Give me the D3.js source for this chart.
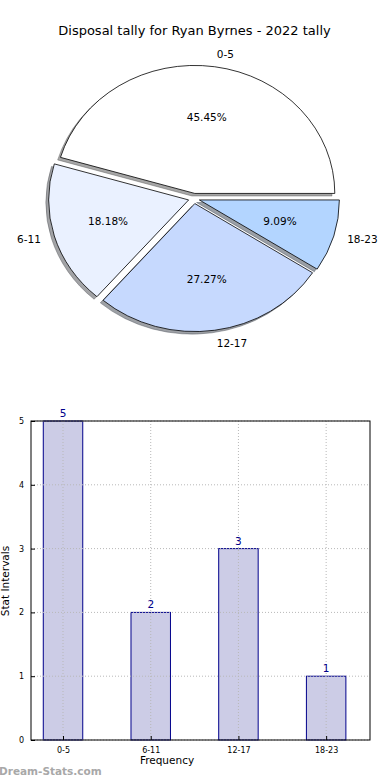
<!DOCTYPE html>
<html><head><meta charset="utf-8">
<script src="https://cdn.jsdelivr.net/npm/d3@7"></script>
<style>
html,body{margin:0;padding:0;background:#fff;}
svg{display:block;font-family:"DejaVu Sans",sans-serif;}
</style></head>
<body>
<svg id="c" width="390" height="780"></svg>
<script>
const title = "Disposal tally for Ryan Byrnes - 2022 tally";
const categories = ["0-5", "6-11", "12-17", "18-23"];
const values = [5, 2, 3, 1];
const pieColors = ["#ffffff", "#eaf1ff", "#c6d9fe", "#b3d5ff"];
const yTicks = [0, 1, 2, 3, 4, 5];
const xLabel = "Frequency";
const yLabel = "Stat Intervals";
const watermark = "Dream-Stats.com";

const svg = d3.select("#c");

// Title
svg.append("text").attr("x", 194.5).attr("y", 35).attr("text-anchor", "middle")
  .attr("font-size", 13).attr("fill", "#000").text(title);

// ---- Pie ----
const cx = 194, cy = 198.5, rx = 140, ry = 128, explode = 0.04;
const total = d3.sum(values);
const pie = d3.pie().sort(null).startAngle(Math.PI / 2).endAngle(Math.PI / 2 - 2 * Math.PI);
const arcs = pie(values);
const arc = d3.arc().innerRadius(0).outerRadius(ry);
const sx = rx / ry;
const pg = svg.append("g").attr("transform", `translate(${cx},${cy}) scale(${sx},1)`);

function off(d, k) {
  const a = (d.startAngle + d.endAngle) / 2;
  return [Math.sin(a) * k * ry, -Math.cos(a) * k * ry];
}
// shadows
arcs.forEach((d, i) => {
  const [ox, oy] = off(d, explode);
  const c = d3.rgb(pieColors[i]);
  const sc = d3.rgb(c.r * 0.3, c.g * 0.3, c.b * 0.3);
  pg.append("path").attr("d", arc(d))
    .attr("transform", `translate(${ox - 0.02 * ry},${oy + 0.02 * ry})`)
    .attr("fill", sc.toString()).attr("fill-opacity", 0.5)
    .attr("stroke", sc.toString()).attr("stroke-opacity", 0.5)
    .attr("vector-effect", "non-scaling-stroke").attr("stroke-width", 0.8);
});
arcs.forEach((d, i) => {
  const [ox, oy] = off(d, explode);
  pg.append("path").attr("d", arc(d))
    .attr("transform", `translate(${ox},${oy})`)
    .attr("fill", pieColors[i]).attr("stroke", "#000")
    .attr("stroke-width", 0.8).attr("vector-effect", "non-scaling-stroke")
    .attr("stroke-linejoin", "round");
});
// labels
arcs.forEach((d, i) => {
  const a = (d.startAngle + d.endAngle) / 2;
  const s = Math.sin(a), c = Math.cos(a);
  const bx = cx + s * explode * rx, by = cy - c * explode * ry;
  const lx = bx + 1.1 * rx * s, ly = by - 1.1 * ry * c;
  svg.append("text").attr("x", lx).attr("y", ly).attr("dy", "0.35em")
    .attr("text-anchor", s > 0 ? "start" : "end")
    .attr("font-size", 10.5).text(categories[i]);
  const px = bx + 0.6 * rx * s, py = by - 0.6 * ry * c;
  svg.append("text").attr("x", px).attr("y", py).attr("dy", "0.35em")
    .attr("text-anchor", "middle").attr("font-size", 10.5)
    .text((values[i] / total * 100).toFixed(2) + "%");
});

// ---- Bar chart ----
const L = 31, R = 370, T = 421, B = 740;
const x = d3.scaleLinear().domain([-0.365, 3.5]).range([L, R]);
const y = d3.scaleLinear().domain([0, 5]).range([B, T]);
const bw = 0.45;
const bg = svg.append("g");

bg.selectAll("rect.bar").data(values).join("rect").attr("class", "bar")
  .attr("x", (d, i) => x(i - bw / 2)).attr("width", (d, i) => x(i + bw / 2) - x(i - bw / 2))
  .attr("y", d => y(d)).attr("height", d => y(0) - y(d))
  .attr("fill", "#ccccE6").attr("stroke", "#00008b").attr("stroke-width", 1);

// grid
bg.selectAll("line.hg").data(yTicks).join("line").attr("class", "hg")
  .attr("x1", L).attr("x2", R).attr("y1", d => y(d)).attr("y2", d => y(d))
  .attr("stroke", "#b8b8b8").attr("stroke-width", 1).attr("stroke-dasharray", "1,2");
bg.selectAll("line.vg").data(categories).join("line").attr("class", "vg")
  .attr("x1", (d, i) => x(i)).attr("x2", (d, i) => x(i)).attr("y1", T).attr("y2", B)
  .attr("stroke", "#b8b8b8").attr("stroke-width", 1).attr("stroke-dasharray", "1,2");

// value labels
bg.selectAll("text.val").data(values).join("text").attr("class", "val")
  .attr("x", (d, i) => x(i)).attr("y", d => y(d) - 4).attr("text-anchor", "middle")
  .attr("font-size", 10.5).attr("fill", "#00008b").text(d => d);

// axes
const yAxis = d3.axisLeft(y).tickValues(yTicks).tickFormat(d3.format("d")).tickSize(4).tickPadding(3);
const ya = svg.append("g").attr("transform", `translate(${L},0)`).call(yAxis);
ya.select(".domain").remove();
ya.selectAll("text").attr("font-size", 8).attr("font-family", "DejaVu Sans");
ya.selectAll("line").attr("stroke", "#000").attr("x2", 4);

const xAxis = d3.axisBottom(x).tickValues(d3.range(categories.length))
  .tickFormat(i => categories[i]).tickSize(4).tickPadding(3);
const xa = svg.append("g").attr("transform", `translate(0,${B})`).call(xAxis);
xa.select(".domain").remove();
xa.selectAll("text").attr("font-size", 8).attr("font-family", "DejaVu Sans");
xa.selectAll("line").attr("stroke", "#000").attr("y2", -4);

svg.append("rect").attr("x", L).attr("y", T).attr("width", R - L).attr("height", B - T)
  .attr("fill", "none").attr("stroke", "#000").attr("stroke-width", 1);

svg.append("text").attr("x", 167).attr("y", 764).attr("text-anchor", "middle")
  .attr("font-size", 10.5).text(xLabel);
svg.append("text").attr("transform", `translate(9,581) rotate(-90)`)
  .attr("text-anchor", "middle").attr("font-size", 10.5).text(yLabel);

svg.append("text").attr("x", -1).attr("y", 775).attr("font-size", 10.5).attr("font-weight", "bold")
  .attr("fill", "#a8a8a8").text(watermark);
</script>
</body></html>
